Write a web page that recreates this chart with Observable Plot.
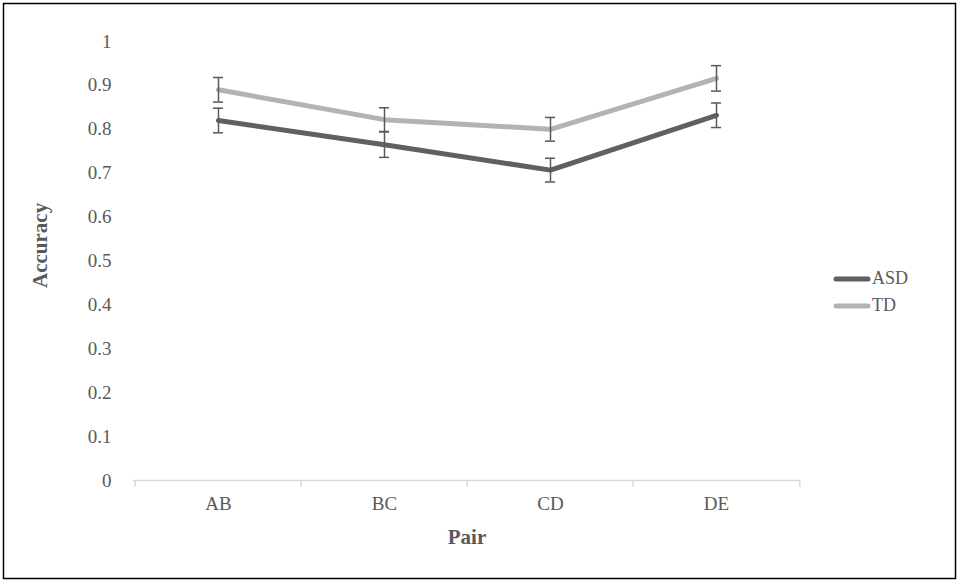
<!DOCTYPE html>
<html>
<head>
<meta charset="utf-8">
<script src="https://cdn.jsdelivr.net/npm/d3@7"></script>
<script src="https://cdn.jsdelivr.net/npm/@observablehq/plot@0.6"></script>
<style>
  html, body { margin: 0; padding: 0; background: white; }
  #wrap { position: relative; width: 958px; height: 581px; }
  #legend { position: absolute; left: 833px; top: 265px; font-family: "Liberation Serif", serif; font-size: 18px; color: #595959; }
  #legend .item { display: flex; align-items: center; height: 27px; }
  #legend svg { margin-right: 1px; }
</style>
</head>
<body>
<div id="wrap"></div>
<script>
const categories = ["AB", "BC", "CD", "DE"];
const seriesNames = ["ASD", "TD"];
const asdValues = [0.82, 0.765, 0.707, 0.832];
const tdValues = [0.89, 0.822, 0.80, 0.916];
const asdErr = [0.028, 0.029, 0.027, 0.028];
const tdErr = [0.028, 0.027, 0.027, 0.029];
const yTicks = [0, 0.1, 0.2, 0.3, 0.4, 0.5, 0.6, 0.7, 0.8, 0.9, 1];
const colors = {ASD: "#606060", TD: "#b3b3b3"};

const rows = [];
categories.forEach((c, i) => {
  rows.push({series: "ASD", pair: c, value: asdValues[i], err: asdErr[i]});
  rows.push({series: "TD", pair: c, value: tdValues[i], err: tdErr[i]});
});

const W = 958, H = 581, ML = 133, MR = 158, MT = 41, MB = 101;
const step = (W - ML - MR) / categories.length;
const font = "Liberation Serif, serif";

const chart = Plot.plot({
  width: W, height: H,
  marginLeft: ML, marginRight: MR, marginTop: MT, marginBottom: MB,
  style: {fontFamily: font, fontSize: "19px", color: "#595959", background: "white"},
  x: {type: "point", domain: categories, padding: 0.5},
  y: {domain: [0, 1]},
  marks: [
    Plot.frame({stroke: "black", strokeWidth: 1.5, insetLeft: -(ML - 3), insetTop: -(MT - 3), insetRight: -(MR - 3), insetBottom: -(MB - 3)}),
    Plot.ruleY([0], {stroke: "#d9d9d9", strokeWidth: 1.5}),
    Plot.axisX({ticks: categories, tickSize: 7, tickFormat: () => "", dx: -step / 2, stroke: "#d9d9d9", strokeWidth: 1.5, label: null}),
    Plot.axisX({ticks: [categories[categories.length - 1]], tickSize: 7, tickFormat: () => "", dx: step / 2, stroke: "#d9d9d9", strokeWidth: 1.5, label: null}),
    Plot.axisX({ticks: categories, tickSize: 0, tickPadding: 16, label: null, fill: "#595959", fontSize: 19}),
    Plot.axisY({ticks: yTicks, tickSize: 0, tickPadding: 22, label: null, tickFormat: d => String(+d.toFixed(1)), fill: "#595959", fontSize: 19}),
    Plot.text(["Accuracy"], {frameAnchor: "left", dx: -93, dy: 27, rotate: -90, fontWeight: "bold", fontSize: 21, fill: "#595959"}),
    Plot.text(["Pair"], {frameAnchor: "bottom", dy: 63, fontWeight: "bold", fontSize: 21, fill: "#595959"}),
    Plot.line(rows, {x: "pair", y: "value", z: "series", stroke: d => colors[d.series], strokeWidth: 5, strokeLinecap: "round", strokeLinejoin: "round"}),
    Plot.ruleX(rows, {x: "pair", y1: d => d.value - d.err, y2: d => d.value + d.err, stroke: "#595959", strokeWidth: 1.5}),
    Plot.ruleY(rows, {y: d => d.value - d.err, x1: "pair", x2: "pair", insetLeft: -5, insetRight: -5, stroke: "#595959", strokeWidth: 1.5}),
    Plot.ruleY(rows, {y: d => d.value + d.err, x1: "pair", x2: "pair", insetLeft: -5, insetRight: -5, stroke: "#595959", strokeWidth: 1.5})
  ]
});

const wrap = document.getElementById("wrap");
wrap.appendChild(chart);
const legend = document.createElement("div");
legend.id = "legend";
seriesNames.forEach(name => {
  const item = document.createElement("div");
  item.className = "item";
  item.innerHTML = `<svg width="38" height="8"><line x1="3" y1="4" x2="35" y2="4" stroke="${colors[name]}" stroke-width="5" stroke-linecap="round"/></svg><span>${name}</span>`;
  legend.appendChild(item);
});
wrap.appendChild(legend);
</script>
</body>
</html>
